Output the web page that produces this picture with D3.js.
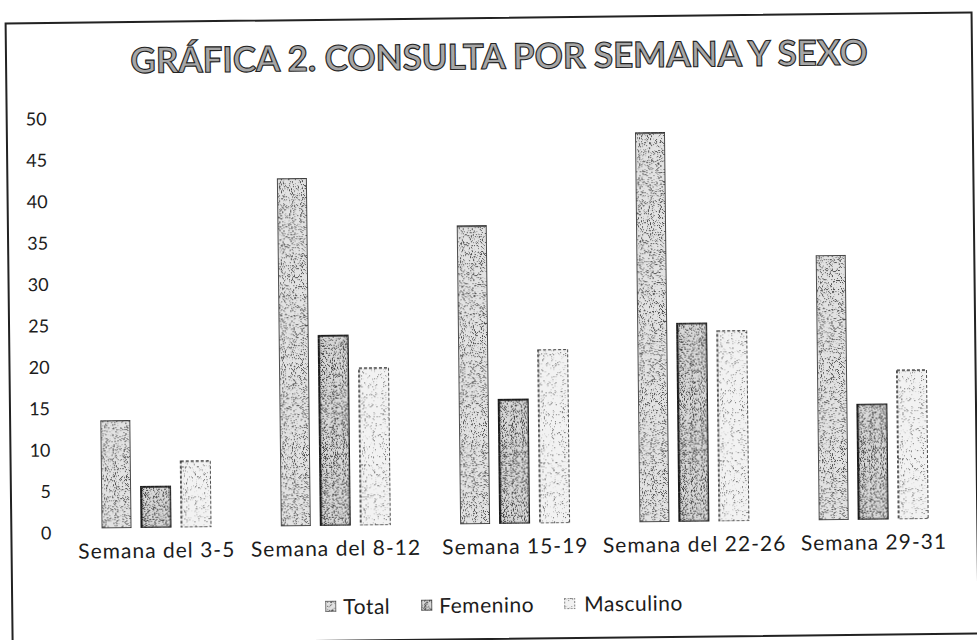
<!DOCTYPE html>
<html>
<head>
<meta charset="utf-8">
<script src="https://cdn.jsdelivr.net/npm/d3@7"></script>
<style>
  body { margin: 0; background: #fff; }
  svg { display: block; }
  text { font-family: Lato, "Open Sans", sans-serif; fill: #1c1c1c; }
</style>
</head>
<body>
<svg id="chart" width="977" height="640"></svg>
<script>
// datos
const semanas = ['Semana del 3-5', 'Semana del 8-12', 'Semana 15-19', 'Semana del 22-26', 'Semana 29-31'];
const series = ['Total', 'Femenino', 'Masculino'];
const total = [13, 42, 36, 47, 32];
const femenino = [5, 23, 15, 24, 14];
const masculino = [8, 19, 21, 23, 18];
const yTicks = [0, 5, 10, 15, 20, 25, 30, 35, 40, 45, 50];

const svg = d3.select('#chart');

// estilos de cada serie (trama punteada del escaneo)
const estilo = {
    Total:     { base: '#e2e2e2', dot: 0.30, thr: 0.44, stroke: '#2a2a2a', sw: 1.6, dash: null },
    Femenino:  { base: '#d8d8d8', dot: 0.24, thr: 0.47, stroke: '#1a1a1a', sw: 2.6, dash: null },
    Masculino: { base: '#f2f2f2', dot: 0.40, thr: 0.38, stroke: '#333', sw: 1.6, dash: '3,2' }
};

const defs = svg.append('defs');
series.forEach((s, i) => {
    const e = estilo[s];
    const f = defs.append('filter')
        .attr('id', 'grano-' + i)
        .attr('x', 0).attr('y', 0).attr('width', 1).attr('height', 1)
        .attr('color-interpolation-filters', 'sRGB');
    f.append('feTurbulence')
        .attr('type', 'fractalNoise')
        .attr('baseFrequency', 1.1)
        .attr('numOctaves', 1)
        .attr('seed', 3 + i)
        .attr('result', 'n');
    f.append('feColorMatrix')
        .attr('in', 'n')
        .attr('type', 'matrix')
        .attr('values', `0 0 0 0 ${e.dot}  0 0 0 0 ${e.dot}  0 0 0 0 ${e.dot}  -10 0 0 0 ${10 * e.thr}`)
        .attr('result', 'd');
    f.append('feComposite').attr('in', 'd').attr('in2', 'SourceGraphic').attr('operator', 'in').attr('result', 'd2');
    const m = f.append('feMerge');
    m.append('feMergeNode').attr('in', 'SourceGraphic');
    m.append('feMergeNode').attr('in', 'd2');
});

// el escaneo esta ligeramente girado
const g = svg.append('g').attr('transform', 'rotate(-0.65, 488, 320)');

g.append('rect')
    .attr('x', 9).attr('y', 18)
    .attr('width', 966).attr('height', 621)
    .attr('fill', 'none')
    .attr('stroke', '#222')
    .attr('stroke-width', 2);

g.append('text')
    .attr('x', 502).attr('y', 69)
    .attr('text-anchor', 'middle')
    .style('font-size', '35px')
    .style('font-weight', 'bold')
    .style('fill', '#a6a6a6')
    .style('stroke', '#222')
    .style('stroke-width', 1.1)
    .text('GRÁFICA 2. CONSULTA POR SEMANA Y SEXO');

const x0 = d3.scaleBand()
    .domain(semanas)
    .range([64.5, 961])
    .paddingInner(0.387)
    .paddingOuter(0.1935);

const x1 = d3.scaleBand()
    .domain(series)
    .range([0, x0.bandwidth()])
    .paddingInner(0.25);

const y = d3.scaleLinear()
    .domain([0, 50])
    .range([524, 110]);

// eje Y: solo etiquetas
const yAxis = g.append('g')
    .attr('transform', 'translate(49,0)')
    .call(d3.axisLeft(y).tickValues(yTicks).tickSize(0).tickPadding(0));
yAxis.select('.domain').remove();
yAxis.selectAll('text')
    .attr('dy', '0.38em')
    .attr('y', 3)
    .style('font-size', '18px')
    .style('font-family', 'Lato, sans-serif')
    .style('fill', '#1c1c1c');

// eje X: etiquetas de semana
const xAxis = g.append('g')
    .attr('transform', `translate(0,${y(0)})`)
    .call(d3.axisBottom(x0).tickSize(0).tickPadding(0));
xAxis.select('.domain').remove();
xAxis.selectAll('text')
    .attr('y', 30)
    .attr('dy', 0)
    .style('font-size', '21px')
    .style('letter-spacing', '1px')
    .style('font-family', 'Lato, sans-serif')
    .style('fill', '#1c1c1c');

const filas = semanas.map((s, i) => ({
    semana: s,
    valores: [
        { serie: 'Total', v: total[i] },
        { serie: 'Femenino', v: femenino[i] },
        { serie: 'Masculino', v: masculino[i] }
    ]
}));

const grupos = g.append('g').selectAll('g')
    .data(filas)
    .join('g')
    .attr('transform', d => `translate(${x0(d.semana)},0)`);

grupos.selectAll('rect')
    .data(d => d.valores)
    .join('rect')
    .attr('x', d => x1(d.serie))
    .attr('y', d => y(d.v))
    .attr('width', x1.bandwidth())
    .attr('height', d => y(0) - y(d.v))
    .attr('fill', d => estilo[d.serie].base)
    .attr('filter', d => `url(#grano-${series.indexOf(d.serie)})`)
    .attr('stroke', d => estilo[d.serie].stroke)
    .attr('stroke-width', d => estilo[d.serie].sw)
    .attr('stroke-dasharray', d => estilo[d.serie].dash);

// leyenda
const leyX = [325, 421, 564];
const leyenda = g.append('g').selectAll('g')
    .data(series)
    .join('g')
    .attr('transform', (d, i) => `translate(${leyX[i] - 3},605)`);
leyenda.append('rect')
    .attr('x', 0).attr('y', -6)
    .attr('width', 11).attr('height', 11)
    .attr('fill', d => estilo[d].base)
    .attr('filter', (d, i) => `url(#grano-${i})`)
    .attr('stroke', d => estilo[d].stroke)
    .attr('stroke-width', 1.2)
    .attr('stroke-dasharray', d => estilo[d].dash ? '2,1.5' : null);
leyenda.append('text')
    .attr('x', (d, i) => i === 2 ? 20 : 18)
    .attr('y', 0)
    .attr('dy', '0.36em')
    .style('font-size', '21px')
    .style('letter-spacing', '0.5px')
    .text(d => d);
</script>
</body>
</html>
